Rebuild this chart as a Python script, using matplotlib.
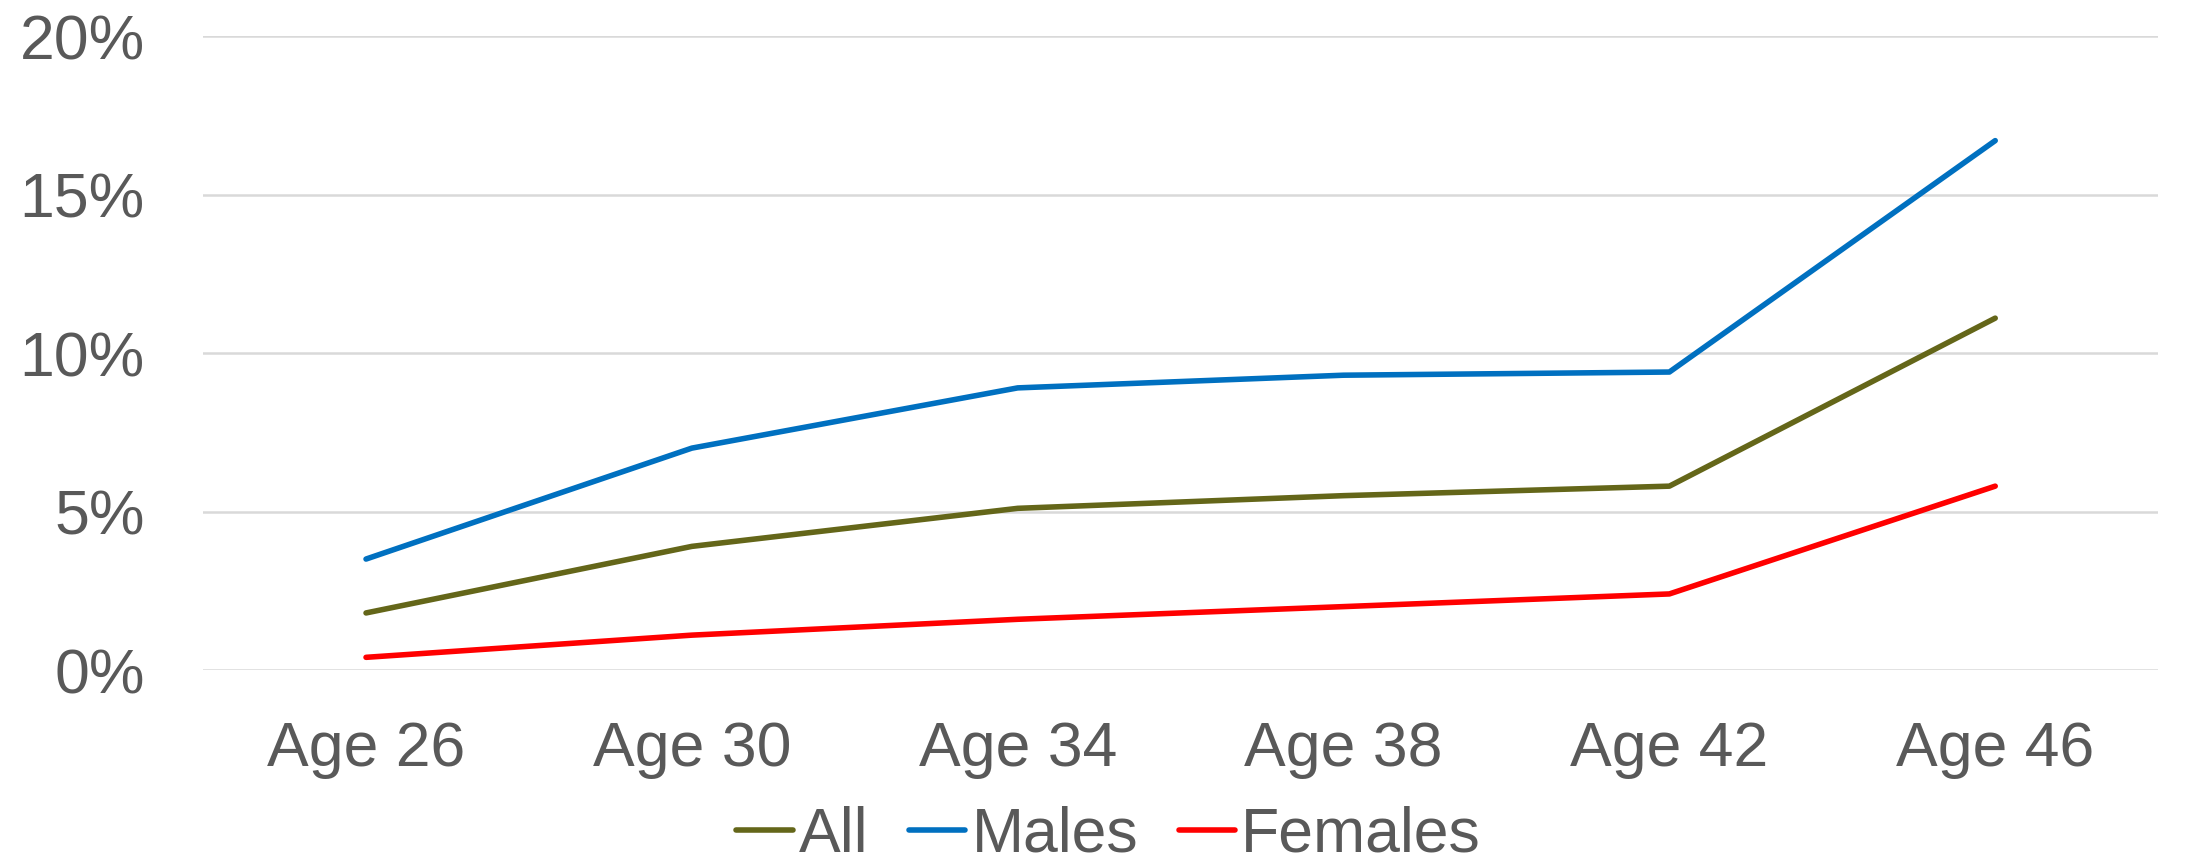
import matplotlib.pyplot as plt
import numpy as np

ages = ["Age 26", "Age 30", "Age 34", "Age 38", "Age 42", "Age 46"]
all_pct = [1.8, 3.9, 5.1, 5.5, 5.8, 11.1]
males_pct = [3.5, 7.0, 8.9, 9.3, 9.4, 16.7]
females_pct = [0.4, 1.1, 1.6, 2.0, 2.4, 5.8]

plt.rcParams['font.family'] = ['Liberation Sans', 'DejaVu Sans']
text_color = "#595959"

fig = plt.figure(figsize=(21.91, 8.68), dpi=100)
ax = fig.add_axes([0.0927, 0.2281, 0.8923, 0.7304])

x = np.arange(len(ages))
line_kw = dict(lw=4, solid_capstyle="round", solid_joinstyle="round")
ax.plot(x, all_pct, color="#646619", label="All", **line_kw)
ax.plot(x, males_pct, color="#0070C0", label="Males", **line_kw)
ax.plot(x, females_pct, color="#FF0000", label="Females", **line_kw)

ax.set_xlim(-0.5, len(ages) - 0.5)
ax.set_ylim(0, 20)
ax.set_yticks([0, 5, 10, 15, 20])
ax.set_yticklabels(["0%", "5%", "10%", "15%", "20%"])
ax.set_xticks(x)
ax.set_xticklabels(ages)
ax.tick_params(axis="both", length=0, labelsize=45, colors=text_color)
ax.tick_params(axis="y", pad=42)
ax.tick_params(axis="x", pad=36)
ax.grid(axis="y", color="#D9D9D9", lw=1.8)
ax.set_axisbelow(True)
for s in ax.spines.values():
    s.set_visible(False)

# legend sits in the bottom strip, centred under the plot
fig.legend(loc="center", bbox_to_anchor=(0.506, 0.038), ncol=3, frameon=False,
           fontsize=45, labelcolor=text_color, handlelength=0.9,
           handletextpad=0.1, columnspacing=0.65, borderaxespad=0,
           borderpad=0)

fig.savefig("out.png", dpi=100)
